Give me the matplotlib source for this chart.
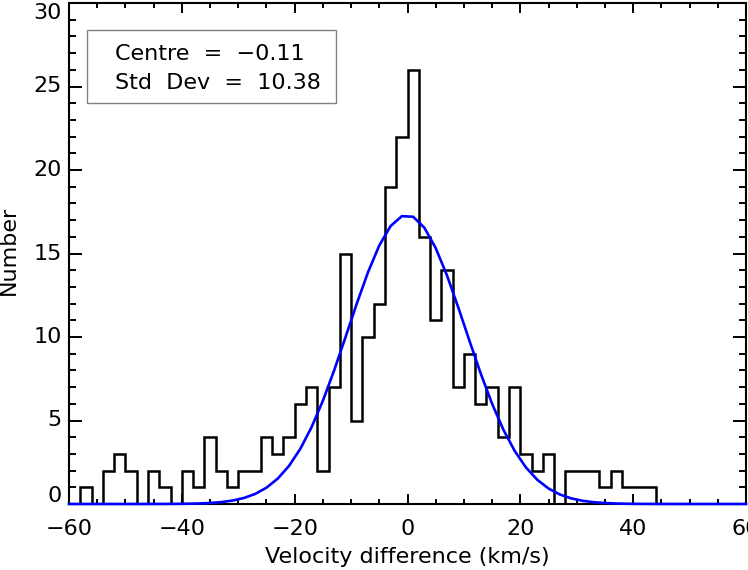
"""Histogram of velocity differences with a Gaussian fit.

"""
import numpy as np
import matplotlib
matplotlib.use("Agg")
import matplotlib.pyplot as plt
from matplotlib.patches import Rectangle

# bins are 2 km/s wide, from -60 to 60
bin_edges = np.arange(-60, 62, 2)
counts = [0, 1, 0, 2, 3, 2, 0, 2, 1, 0,
          2, 1, 4, 2, 1, 2, 2, 4, 3, 4,
          6, 7, 2, 7, 15, 5, 10, 12, 19, 22,
          26, 16, 11, 14, 7, 9, 6, 7, 4, 7,
          3, 2, 3, 0, 2, 2, 2, 1, 2, 1,
          1, 1, 0, 0, 0, 0, 0, 0, 0, 0]

# gaussian fit parameters
fit_centre = -0.11
fit_sigma = 10.38
fit_amp = 17.3

y_ticks = [0, 5, 10, 15, 20, 25, 30]
x_ticks = [-60, -40, -20, 0, 20, 40, 60]

fig = plt.figure(figsize=(7.48, 5.70), dpi=100)
ax = fig.add_axes([69 / 748, 66 / 570, 677 / 748, 501 / 570])

ax.stairs(counts, bin_edges, color="black", linewidth=1.8, baseline=0)

# curve evaluated at bin centres (plus the axis ends)
xc = (bin_edges[:-1] + bin_edges[1:]) / 2.0
xc = np.concatenate([[bin_edges[0]], xc, [bin_edges[-1]]])
yc = fit_amp * np.exp(-(xc - fit_centre) ** 2 / (2 * fit_sigma ** 2))
ax.plot(xc, yc, color="#0000ff", linewidth=1.9, zorder=3, clip_on=False)

ax.set_xlim(-60, 60)
ax.set_ylim(0, 30)
ax.set_xticks(x_ticks)
ax.set_xticks(np.arange(-60, 61, 5), minor=True)
ax.set_yticks(y_ticks)
ax.set_yticks(np.arange(0, 31, 1), minor=True)
ax.set_xticklabels(["\u2212" + str(-v) if v < 0 else str(v) for v in x_ticks])
ax.set_yticklabels([])

ax.tick_params(axis="both", which="both", direction="in",
               top=True, right=True, width=1.4, colors="black")
ax.tick_params(axis="x", which="major", length=7.2, pad=11, labelsize=16)
ax.tick_params(axis="x", which="minor", length=3.6)
ax.tick_params(axis="y", which="major", length=9.7)
ax.tick_params(axis="y", which="minor", length=4.8)
for s in ax.spines.values():
    s.set_linewidth(1.5)

# y labels drawn by hand so the end ones can be nudged inside the figure
for v in y_ticks:
    dy = 0
    if v == 0:
        dy = 6
    elif v == 30:
        dy = -7
    ax.annotate(str(v), xy=(0, v), xycoords=("axes fraction", "data"),
                xytext=(-5, dy), textcoords="offset points",
                ha="right", va="center", fontsize=16)

fig.text(9 / 748, 320 / 570, "Number", rotation=90, ha="center",
         va="center", fontsize=16)
fig.text(407.5 / 748, 7 / 570, "Velocity difference (km/s)", ha="center",
         va="baseline", fontsize=16)

# legend box with fit results
box = Rectangle((0.027, 0.80), 0.367, 0.146, transform=ax.transAxes,
                fill=False, edgecolor="#808080", linewidth=1.0)
ax.add_patch(box)
ax.text(0.068, 0.886, "Centre  =  \u22120.11", transform=ax.transAxes,
        ha="left", va="baseline", fontsize=16)
ax.text(0.068, 0.828, "Std  Dev  =  10.38", transform=ax.transAxes,
        ha="left", va="baseline", fontsize=16)

fig.savefig("out.png", dpi=100)
